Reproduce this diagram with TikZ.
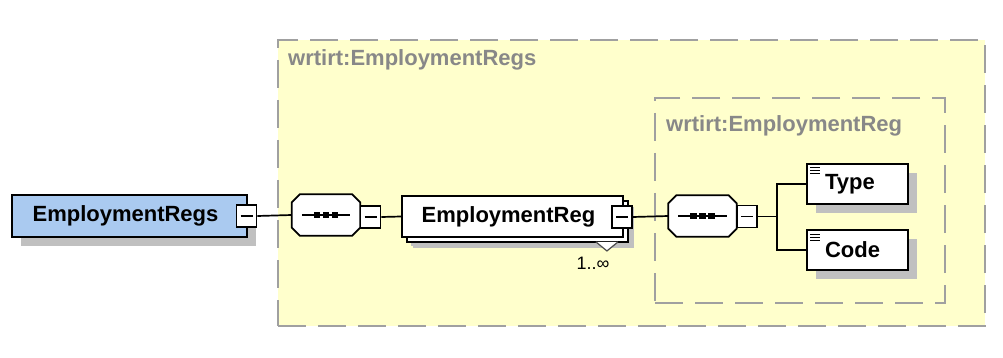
\documentclass[tikz,border=0pt]{standalone}
\usepackage{fontspec}
\setmainfont{Liberation Sans}
\usetikzlibrary{shadows}
\definecolor{regyellow}{RGB}{255,255,204}
\definecolor{rootblue}{RGB}{170,202,240}
\definecolor{dashgray}{RGB}{160,160,160}
\definecolor{labelgray}{RGB}{136,136,136}
\definecolor{shadowgray}{RGB}{192,192,192}
% octagon of a sequence compositor, drawn round the node #1
\newcommand{\octpath}[1]{([xshift=8pt]#1.north west) -- ([xshift=-8pt]#1.north east)
    -- ([yshift=-8pt]#1.north east) -- ([yshift=8pt]#1.south east)
    -- ([xshift=-8pt]#1.south east) -- ([xshift=8pt]#1.south west)
    -- ([yshift=8pt]#1.south west) -- ([yshift=-8pt]#1.north west) -- cycle}
\newcommand{\drawseq}[1]{
    \fill[shadowgray, shift={(10pt,-10pt)}] \octpath{#1};
    \filldraw[fill=white, line width=1.8pt] \octpath{#1};
    \draw[line width=1.6pt] ([xshift=10pt]#1.west) -- ([xshift=-10pt]#1.east);
    \foreach \dx in {-9,0,9}
        \fill ([xshift=\dx pt]#1.center) +(-3.2pt,-3.2pt) rectangle +(3.2pt,3.2pt);
}
\begin{document}
\begin{tikzpicture}[x=1pt, y=-1pt,
    every node/.style={font=\fontsize{22}{26}\selectfont\bfseries},
    region/.style={draw=dashgray, fill=regyellow, line width=2pt,
        dash pattern=on 28pt off 12pt, inner sep=0pt},
    regionlabel/.style={anchor=west, text=labelgray, inner sep=0pt},
    elem/.style={draw, line width=1.9pt, fill=white, inner sep=0pt,
        drop shadow={shadow xshift=9pt, shadow yshift=-9pt, fill=shadowgray, opacity=1}},
    expander/.style={draw, line width=1.7pt, fill=white, inner sep=0pt,
        minimum width=20pt, minimum height=22pt,
        path picture={\draw[line width=1.6pt]
            ([xshift=4pt]path picture bounding box.west) --
            ([xshift=-4pt]path picture bounding box.east);}},
    seqbox/.style={minimum width=68pt, minimum height=41pt, inner sep=0pt},
    leaf/.style={elem, minimum width=101pt, minimum height=40pt,
        text width=65pt, inner xsep=18pt, align=left,
        path picture={\foreach \yy in {4,7,10}
            \draw[line width=1pt] ([shift={(3pt,-\yy pt)}]path picture bounding box.north west)
                -- ++(10pt,0);}},
    conn/.style={line width=1.7pt}
]
\useasboundingbox (0,0) rectangle (1003,358);

% type boxes
\node[region, minimum width=707pt, minimum height=286pt] (regs) at (631.5,183) {};
\node[regionlabel] (regslabel) at ([shift={(11pt,-21pt)}]regs.north west) {wrtirt:EmploymentRegs};
\node[region, minimum width=290pt, minimum height=205pt] (reg) at (800,200.5) {};
\node[regionlabel] (reglabel) at ([shift={(12pt,-29pt)}]reg.north west) {wrtirt:EmploymentReg};

% elements
\node[elem, fill=rootblue, minimum width=235pt, minimum height=42pt] (root) at (129.5,216) {EmploymentRegs\hspace*{8pt}};
\node[seqbox] (seq1) at (326,215) {};
\drawseq{seq1}
\node[elem, minimum width=221pt, minimum height=41pt,
    drop shadow={shadow xshift=11pt, shadow yshift=-11pt, fill=shadowgray, opacity=1},
    copy shadow={shadow xshift=5pt, shadow yshift=-5pt}] (erg) at (512.5,216.5) {EmploymentReg\hspace*{8pt}};
\draw[line width=1.2pt, draw=black!70, fill=white]
    ([xshift=-28pt, yshift=-4pt]erg.south east) -- ++(11,9) -- ++(11,-9);
\node[font=\fontsize{18}{20}\selectfont] (ergcount) at (593,263) {1..∞};
\node[seqbox] (seq2) at (702.5,216) {};
\drawseq{seq2}
\node[leaf] (type) at (857.5,184) {Type};
\node[leaf] (code) at (857.5,250) {Code};

% expanders
\node[expander] (rootx) at (246.5,216) {};
\node[expander] (seq1x) at (370.5,217) {};
\node[expander] (ergx) at (622,217) {};
\node[expander] (seq2x) at (747,216.5) {};
\coordinate (fork) at (777,216.5);

% connectors
\draw[conn] (rootx.east) -- (seq1.west);
\draw[conn] (seq1x.east) -- (erg.west);
\draw[conn] (ergx.east) -- (seq2.west);
\draw[conn] (seq2x.east) -- (fork);
\draw[conn] (fork) |- (type.west);
\draw[conn] (fork) |- (code.west);
\end{tikzpicture}
\end{document}
